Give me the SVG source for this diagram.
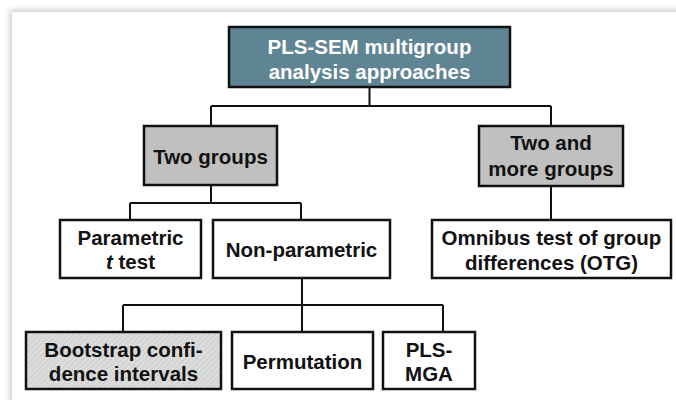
<svg xmlns="http://www.w3.org/2000/svg" width="676" height="400" viewBox="0 0 676 400">
  <defs>
    <filter id="cardShadow" x="-5%" y="-5%" width="110%" height="110%">
      <feDropShadow dx="-2" dy="-2" stdDeviation="3" flood-color="#000" flood-opacity="0.22"/>
    </filter>
    <pattern id="hatch" width="4" height="4" patternUnits="userSpaceOnUse" patternTransform="rotate(45)">
      <rect width="4" height="4" fill="#dcdcdc"/>
      <line x1="0" y1="0" x2="0" y2="4" stroke="#c4c4c4" stroke-width="1.2"/>
    </pattern>
    <style>
      .box { stroke: #111; stroke-width: 2.5; }
      .plain { fill: #fff; }
      .grey { fill: #c0c0c0; }
      .root { fill: #5f8595; }
      .hatched { fill: url(#hatch); }
      text { font-family: "Liberation Sans", Arial, sans-serif; font-weight: bold; font-size: 20.5px; text-anchor: middle; fill: #111; }
      .light { fill: #fff; }
      .conn { fill: none; stroke: #111; stroke-width: 2; }
    </style>
  </defs>

  <rect width="676" height="400" fill="#fff"/>
  <rect x="12" y="12" width="700" height="420" fill="#fff" filter="url(#cardShadow)"/>

  <!-- connectors -->
  <g id="connectors">
    <path class="conn" d="M369.5 87 V106 M211 106 H551 M211 106 V126 M551 106 V126"/>
    <path class="conn" d="M211 185 V203 M130 203 H301 M130 203 V220 M301 203 V220"/>
    <path class="conn" d="M551 186 V220"/>
    <path class="conn" d="M302 278 V305 M123 305 H443 M123 305 V332 M302 305 V332 M443 305 V332"/>
  </g>

  <g id="root">
    <rect class="box root" x="229" y="27" width="281" height="60"/>
    <text class="light" x="369.5" y="54">PLS-SEM multigroup</text>
    <text class="light" x="369.5" y="79">analysis approaches</text>
  </g>

  <g id="two-groups">
    <rect class="box grey" x="144" y="126" width="133" height="59"/>
    <text x="210.5" y="164">Two groups</text>
  </g>

  <g id="more-groups">
    <rect class="box grey" x="479" y="126" width="144" height="60"/>
    <text x="551" y="150">Two and</text>
    <text x="551" y="176">more groups</text>
  </g>

  <g id="parametric">
    <rect class="box plain" x="60" y="220" width="141" height="58"/>
    <text x="130.5" y="245">Parametric</text>
    <text x="130.5" y="269"><tspan font-style="italic">t</tspan> test</text>
  </g>

  <g id="non-parametric">
    <rect class="box plain" x="213" y="220" width="177" height="58"/>
    <text x="301.5" y="257">Non-parametric</text>
  </g>

  <g id="otg">
    <rect class="box plain" x="432" y="220" width="239" height="58"/>
    <text x="551.5" y="245">Omnibus test of group</text>
    <text x="551.5" y="270">differences (OTG)</text>
  </g>

  <g id="bootstrap">
    <rect class="box hatched" x="26" y="332" width="195" height="57"/>
    <text x="123.5" y="357">Bootstrap confi-</text>
    <text x="123.5" y="381">dence intervals</text>
  </g>

  <g id="permutation">
    <rect class="box plain" x="232" y="332" width="141" height="57"/>
    <text x="302.5" y="369">Permutation</text>
  </g>

  <g id="pls-mga">
    <rect class="box plain" x="383" y="332" width="92" height="57"/>
    <text x="429" y="357">PLS-</text>
    <text x="429" y="381">MGA</text>
  </g>
</svg>
